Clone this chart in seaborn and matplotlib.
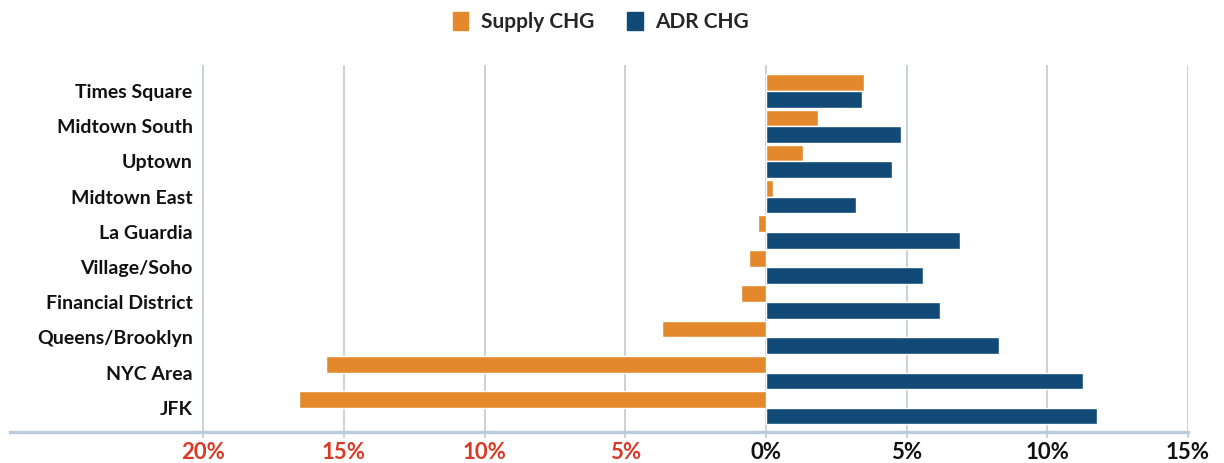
import pandas as pd
import numpy as np
import seaborn as sns
import matplotlib.pyplot as plt
from matplotlib.patches import Patch

# donnees (variation en %)
submarkets = ['Times Square', 'Midtown South', 'Uptown', 'Midtown East', 'La Guardia',
              'Village/Soho', 'Financial District', 'Queens/Brooklyn', 'NYC Area', 'JFK']
supply_chg = [3.48, 1.85, 1.31, 0.25, -0.28, -0.60, -0.89, -3.68, -15.63, -16.60]
adr_chg = [3.41, 4.80, 4.48, 3.20, 6.89, 5.58, 6.18, 8.28, 11.27, 11.76]
series = ['Supply CHG', 'ADR CHG']
xticks = [-20, -15, -10, -5, 0, 5, 10, 15]

orange = '#E3892B'
blue = '#114A76'
grid_col = '#c6d2dd'
red = '#d93a26'

df = pd.DataFrame({'submarket': submarkets * 2,
                   'serie': [series[0]] * len(submarkets) + [series[1]] * len(submarkets),
                   'chg': supply_chg + adr_chg})

sns.set_theme(style='white')
plt.rcParams['font.family'] = ['Lato', 'DejaVu Sans']

fig = plt.figure(figsize=(12.24, 4.63), dpi=100)
ax = fig.add_axes([10 / 1224, 1 - 432 / 463, 1178 / 1224, 367 / 463])

sns.barplot(data=df, y='submarket', x='chg', hue='serie', hue_order=series,
            order=submarkets, palette=[orange, blue], orient='h',
            width=0.95, gap=0, saturation=1, legend=False, ax=ax, zorder=3)

ax.set_xlim(-26.87, 15)
ax.set_ylim(9.69, -0.74)
ax.set_xticks(xticks)
ax.set_xticklabels(['%d%%' % abs(t) for t in xticks])
for t, lab in zip(xticks, ax.get_xticklabels()):
    lab.set_color(red if t < 0 else '#111111')
    lab.set_fontsize(16)
    lab.set_fontweight('bold')

ax.grid(axis='x', color=grid_col, linewidth=1.4, zorder=0)
ax.set_axisbelow(True)
for s in ['top', 'left', 'right']:
    ax.spines[s].set_visible(False)
ax.spines['bottom'].set_color('#bccbd9')
ax.spines['bottom'].set_linewidth(2.4)
ax.spines['bottom'].set_zorder(4)

ax.tick_params(axis='x', length=4, width=1.4, color=grid_col, pad=3, bottom=True)
ax.tick_params(axis='y', length=0, pad=-131.5)
for lab in ax.get_yticklabels():
    lab.set_fontsize(14)
    lab.set_fontweight('bold')
    lab.set_color('#111111')
    lab.set_horizontalalignment('right')
ax.set_xlabel('')
ax.set_ylabel('')

handles = [Patch(color=orange, label=series[0]), Patch(color=blue, label=series[1])]
fig.legend(handles=handles, loc='center', bbox_to_anchor=(0.491, 0.953), ncol=2,
           frameon=False, handlelength=0.75, handleheight=1.0, handletextpad=0.6,
           columnspacing=1.6, prop={'size': 15, 'weight': 'bold'})

plt.savefig('out.png', dpi=100)
